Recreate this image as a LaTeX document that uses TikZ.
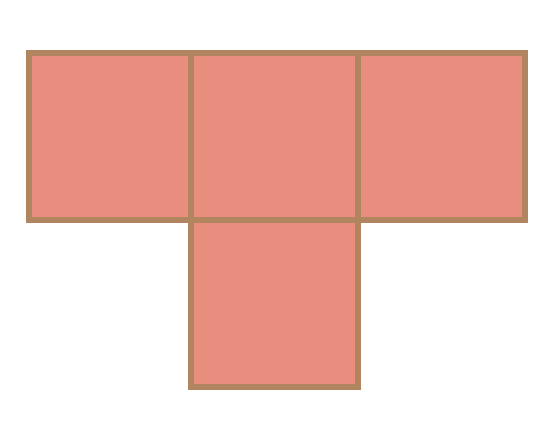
\documentclass[tikz,border=0pt]{standalone}
\usetikzlibrary{positioning}
\definecolor{tilefill}{HTML}{E98D7F}
\definecolor{tileedge}{HTML}{B0855F}
\begin{document}
\begin{tikzpicture}[x=1pt,y=-1pt,node distance=0pt]
    \tikzstyle{cell} = [rectangle, draw=tileedge, fill=tilefill, line width=6pt, minimum width=167pt, minimum height=167pt, inner sep=0pt, outer sep=0pt]
    \useasboundingbox (0,0) rectangle (557,431);

    \node [cell, minimum width=162pt] (left) at (110,136) {};
    \node [cell, right=of left] (middle) {};
    \node [cell, right=of middle] (right) {};
    \node [cell, below=of middle] (bottom) {};
\end{tikzpicture}
\end{document}
